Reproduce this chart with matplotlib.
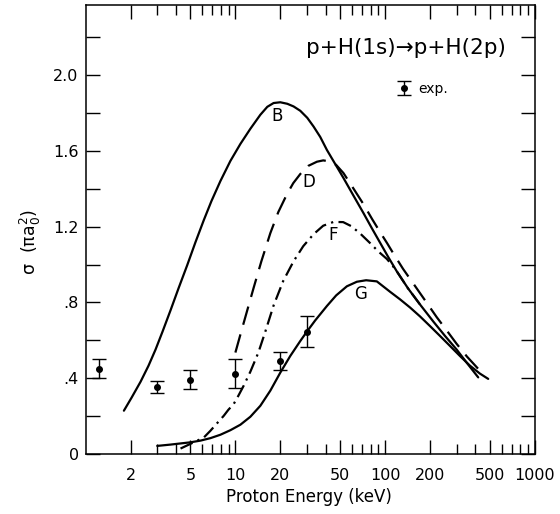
import matplotlib
matplotlib.use('Agg')
import matplotlib.pyplot as plt
from matplotlib.ticker import FixedLocator, FixedFormatter, NullFormatter

# ---- data ----
b_energy = [1.800, 2.026, 2.326, 2.630, 2.929, 3.262, 3.687, 4.169, 4.764, 5.412, 6.148, 6.918,
            7.943, 9.259, 10.80, 12.59, 14.68, 16.34, 18.00, 19.95, 22.22, 24.47, 27.13, 30.20,
            33.27, 36.87, 40.87, 46.42, 52.72, 61.17, 71.66, 81.93, 92.62, 104.7, 119.7, 142.3,
            171.1, 209.9, 251.2, 300.6, 350.5, 418.8]
b_sigma = [0.228, 0.297, 0.381, 0.466, 0.551, 0.646, 0.758, 0.874, 0.996, 1.118, 1.234, 1.335,
           1.441, 1.547, 1.637, 1.717, 1.791, 1.833, 1.853, 1.857, 1.849, 1.835, 1.812, 1.775,
           1.729, 1.674, 1.605, 1.531, 1.457, 1.367, 1.272, 1.189, 1.115, 1.041, 0.964, 0.874,
           0.789, 0.699, 0.623, 0.551, 0.482, 0.404]

d_energy = [10.00, 10.80, 11.66, 13.24, 14.91, 17.12, 19.35, 22.12, 24.36, 27.13, 30.67, 35.05,
            38.61, 42.99, 47.13, 52.72, 61.17, 71.66, 81.93, 92.62, 103.1, 113.6, 131.8, 154.5,
            184.8, 221.2, 255.1, 300.6, 352.1, 418.8]
d_sigma = [0.535, 0.630, 0.723, 0.877, 1.017, 1.166, 1.277, 1.372, 1.430, 1.478, 1.521, 1.543,
           1.550, 1.544, 1.526, 1.483, 1.404, 1.319, 1.240, 1.171, 1.113, 1.058, 0.977, 0.899,
           0.811, 0.722, 0.657, 0.581, 0.514, 0.449]

f_energy = [4.30, 5.17, 6.148, 6.81, 7.59, 8.36, 8.98, 9.74, 10.47, 11.36, 12.59, 14.24, 15.85,
            18.00, 20.89, 24.47, 28.40, 33.27, 38.61, 45.21, 52.48, 59.33, 68.13, 79.43, 89.82,
            102.6, 111.4, 119.7, 142.3, 171.1]
f_sigma = [0.028, 0.058, 0.086, 0.122, 0.164, 0.201, 0.233, 0.263, 0.307, 0.360, 0.434, 0.535,
           0.646, 0.784, 0.914, 1.017, 1.097, 1.160, 1.205, 1.225, 1.224, 1.203, 1.164, 1.113,
           1.070, 1.030, 0.997, 0.964, 0.874, 0.789]

g_energy = [3.006, 3.687, 4.30, 5.01, 5.85, 6.81, 7.94, 9.26, 10.80, 12.59, 14.68, 17.12, 19.95,
            23.26, 27.13, 30.06, 34.15, 40.87, 47.13, 55.55, 64.75, 74.68, 88.06, 108.0, 125.9,
            146.8, 171.1, 199.5, 232.6, 271.3, 316.2, 368.7, 429.9, 488.4]
g_sigma = [0.042, 0.049, 0.055, 0.061, 0.070, 0.083, 0.101, 0.125, 0.154, 0.196, 0.254, 0.334,
           0.429, 0.517, 0.596, 0.646, 0.705, 0.781, 0.837, 0.885, 0.909, 0.917, 0.911, 0.856,
           0.816, 0.773, 0.726, 0.675, 0.623, 0.570, 0.517, 0.466, 0.424, 0.396]

exp_energy = [1.23, 3.0, 5.0, 10.0, 20.0, 30.0]
exp_sigma = [0.449, 0.353, 0.392, 0.423, 0.489, 0.646]
exp_err = [0.050, 0.030, 0.050, 0.077, 0.048, 0.080]

x_ticks = [2, 5, 10, 20, 50, 100, 200, 500, 1000]
x_ticklabels = ['2', '5', '10', '20', '50', '100', '200', '500', '1000']
x_minor = [3, 4, 6, 7, 8, 9, 30, 40, 60, 70, 80, 90, 300, 400, 600, 700, 800, 900]
y_ticks = [0, 0.4, 0.8, 1.2, 1.6, 2.0]
y_ticklabels = ['0', '.4', '.8', '1.2', '1.6', '2.0']
y_minor = [0.2, 0.6, 1.0, 1.4, 1.8, 2.2]

curve_labels = ['B', 'D', 'F', 'G']
label_energy = [18.9, 30.9, 45.0, 68.1]
label_sigma = [1.785, 1.437, 1.155, 0.846]

plt.rcParams['font.family'] = ['DejaVu Sans']

fig = plt.figure(figsize=(5.6, 5.14), dpi=100)
ax = fig.add_axes([0.153, 0.117, 0.802, 0.873])
ax.set_xscale('log')
ax.set_xlim(1, 1000)
ax.set_ylim(0, 2.37)

lw = 1.6
ax.plot(b_energy, b_sigma, color='black', lw=lw, solid_capstyle='round', solid_joinstyle='round')
ax.plot(d_energy, d_sigma, color='black', lw=lw, dashes=(8.5, 4.5))
ax.plot(f_energy, f_sigma, color='black', lw=lw, dashes=(6, 2.4, 1.0, 2.4))
ax.plot(g_energy, g_sigma, color='black', lw=lw, solid_capstyle='round', solid_joinstyle='round')

eb = ax.errorbar(exp_energy, exp_sigma, yerr=exp_err, fmt='o', color='black', ms=4,
                 capsize=5, elinewidth=1.0, capthick=1.0, label='exp.')

for lab, xe, ys in zip(curve_labels, label_energy, label_sigma):
    ax.text(xe, ys, lab, fontsize=12, ha='center', va='center')

ax.text(0.713, 0.905, 'p+H(1s)\u2192p+H(2p)', transform=ax.transAxes, fontsize=15.5,
        ha='center', va='center')

leg = ax.legend(handles=[eb], loc='upper left', bbox_to_anchor=(0.685, 0.842), frameon=False,
                fontsize=10, handlelength=0.8, handletextpad=0.6, borderaxespad=0)

ax.xaxis.set_major_locator(FixedLocator(x_ticks))
ax.xaxis.set_major_formatter(FixedFormatter(x_ticklabels))
ax.xaxis.set_minor_locator(FixedLocator(x_minor))
ax.xaxis.set_minor_formatter(NullFormatter())
ax.yaxis.set_major_locator(FixedLocator(y_ticks))
ax.yaxis.set_major_formatter(FixedFormatter(y_ticklabels))
ax.yaxis.set_minor_locator(FixedLocator(y_minor))

ax.tick_params(axis='both', which='both', direction='in', top=True, right=True, width=1.0,
               labelsize=11.5)
ax.tick_params(axis='x', which='major', length=10, pad=10)
ax.tick_params(axis='x', which='minor', length=7)
ax.tick_params(axis='y', which='both', length=10, pad=5)
for s in ax.spines.values():
    s.set_linewidth(1.1)

ax.set_xlabel('Proton Energy (keV)', fontsize=12, va='center')
ax.xaxis.set_label_coords(0.496, -0.096)
ax.set_ylabel('σ  (π$\\mathregular{a_0^2}$)', fontsize=12.5)
ax.yaxis.set_label_coords(-0.096, 0.472)

fig.savefig('out.png', dpi=100)
